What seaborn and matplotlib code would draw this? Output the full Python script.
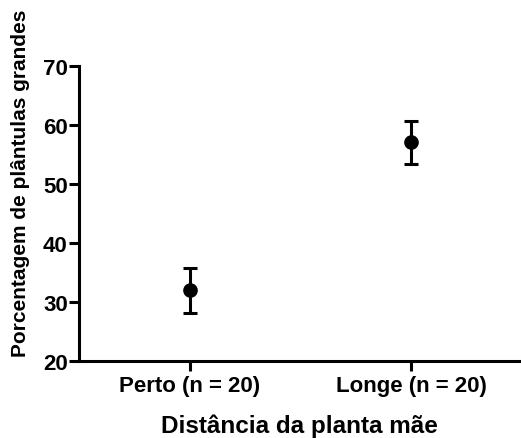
import seaborn as sns
import matplotlib.pyplot as plt
import numpy as np
import pandas as pd

categories = ['Perto (n = 20)', 'Longe (n = 20)']
means = [32.0, 57.1]
err_low = [28.2, 53.4]
err_high = [35.7, 60.7]

sns.set_theme(style='ticks')
plt.rcParams['font.family'] = ['Liberation Sans', 'DejaVu Sans']
plt.rcParams['font.weight'] = 'bold'
plt.rcParams['text.color'] = 'black'
plt.rcParams['axes.labelcolor'] = 'black'

frame = pd.DataFrame({'cat': categories, 'mean': means, 'low': err_low, 'high': err_high})

fig = plt.figure(figsize=(5.21, 4.39), dpi=100)
ax = fig.add_axes([0.1516, 0.1754, 0.8465, 0.672])

sns.pointplot(data=frame, x='cat', y='mean', errorbar=None, linestyle='none',
              color='black', markers='o', markersize=8.5, ax=ax)
xpos = np.arange(len(categories))
ax.errorbar(xpos, frame['mean'],
            yerr=[frame['mean'] - frame['low'], frame['high'] - frame['mean']],
            fmt='none', ecolor='black', elinewidth=2.2, capsize=4.8, capthick=2.2)

ax.set_ylim(20, 70)
ax.set_xlim(-0.5, 1.49)
ax.set_yticks([20, 30, 40, 50, 60, 70])
sns.despine(ax=ax)
for side in ['left', 'bottom']:
    ax.spines[side].set_linewidth(2.2)
    ax.spines[side].set_color('black')
ax.tick_params(axis='both', width=2.2, length=7, colors='black', labelsize=16, pad=1)
ax.tick_params(axis='x', pad=3)
for lbl in ax.get_xticklabels() + ax.get_yticklabels():
    lbl.set_fontweight('bold')

ax.set_xlabel('Distância da planta mãe', fontsize=17.5, fontweight='bold', labelpad=12.5)
ax.set_ylabel('Porcentagem de plântulas grandes', fontsize=15, fontweight='bold')
ax.yaxis.set_label_coords(-0.111, 0.607)

fig.savefig('out.png', dpi=100)
